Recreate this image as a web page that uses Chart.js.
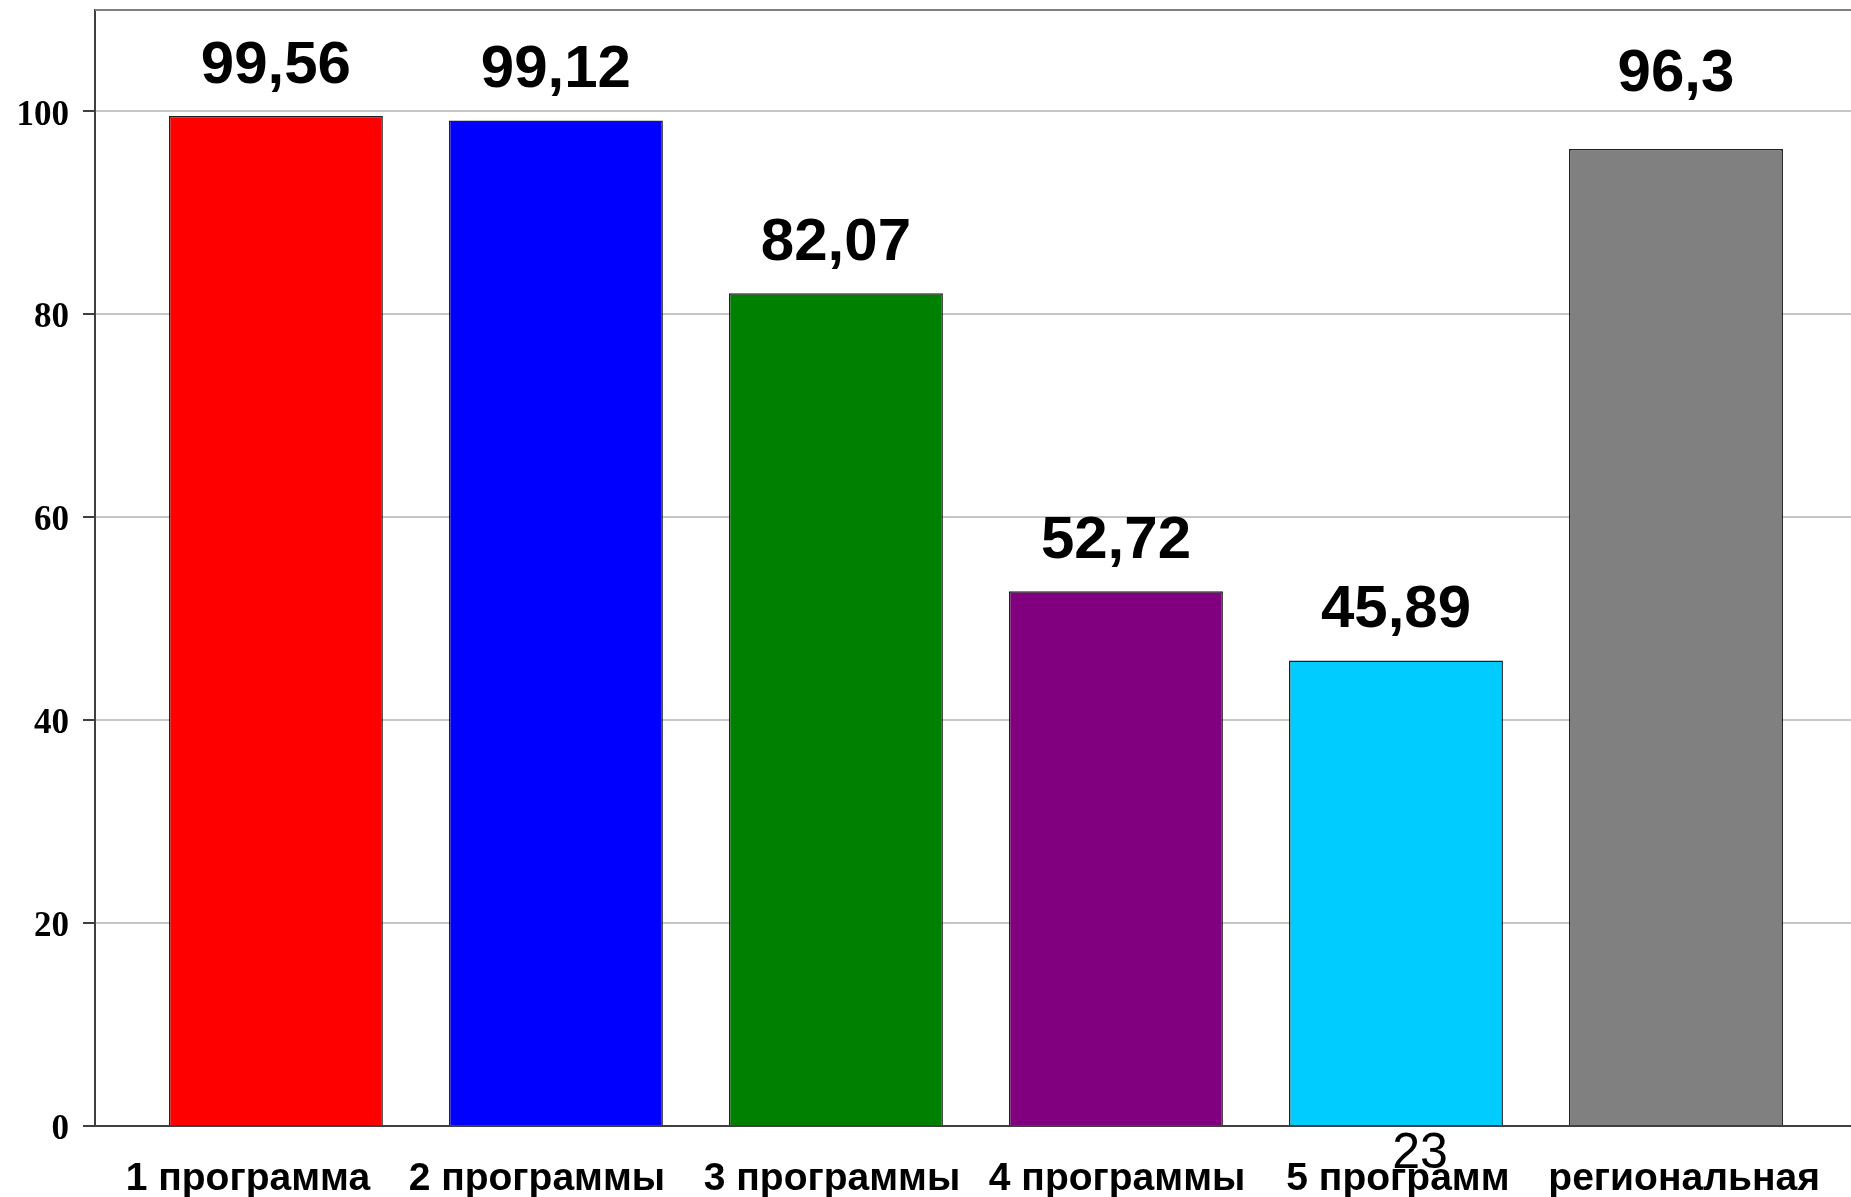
<!DOCTYPE html>
<html>
<head>
<meta charset="utf-8">
<script src="https://cdn.jsdelivr.net/npm/chart.js@4"></script>
<style>
  html, body { margin: 0; padding: 0; background: #fff; }
  #chart { display: block; }
</style>
</head>
<body>
<canvas id="chart" width="1851" height="1197"></canvas>
<script>
const categories = ["1 программа", "2 программы", "3 программы", "4 программы", "5 программ", "региональная"];
const values = [99.56, 99.12, 82.07, 52.72, 45.89, 96.3];
const barColors = ["#ff0000", "#0000ff", "#008000", "#800080", "#00ccff", "#808080"];
const yTicks = [0, 20, 40, 60, 80, 100];
const slideNumber = "23";

// the source placed the last value label a bit higher than the others
const labelGap = [33, 33, 33, 33, 33, 58];
// category labels are not quite centred under their bars in the source (in category units)
const labelShift = [-0.1, -0.068, -0.014, 0.004, 0.007, 0.029];

const sans = "'Liberation Sans', Arial, sans-serif";
const serif = "'Liberation Serif', 'Times New Roman', serif";

const formatValue = (v) => String(v).replace(".", ",");

const noPadding = (axis) => {
  axis.paddingTop = 0;
  axis.paddingBottom = 0;
  axis.paddingLeft = 0;
  axis.paddingRight = 0;
};

const frame = {
  id: "frame",
  beforeDatasetsDraw(chart) {
    const { ctx, chartArea } = chart;
    ctx.save();
    ctx.strokeStyle = "#808080";
    ctx.lineWidth = 2;
    ctx.beginPath();
    ctx.moveTo(chartArea.left, chartArea.top);
    ctx.lineTo(chartArea.right, chartArea.top);
    ctx.stroke();
    ctx.restore();
  },
};

const valueLabels = {
  id: "valueLabels",
  afterDatasetsDraw(chart) {
    const { ctx } = chart;
    const meta = chart.getDatasetMeta(0);
    ctx.save();
    ctx.fillStyle = "#000";
    ctx.font = `bold 60px ${sans}`;
    ctx.textAlign = "center";
    ctx.textBaseline = "alphabetic";
    meta.data.forEach((bar, i) => {
      ctx.fillText(formatValue(values[i]), bar.x, bar.y - labelGap[i]);
    });
    ctx.restore();
  },
  afterDraw(chart) {
    const { ctx } = chart;
    const x = chart.scales.x.getPixelForValue(4) + 24;
    ctx.save();
    ctx.fillStyle = "#000";
    ctx.font = `50px ${sans}`;
    ctx.textAlign = "center";
    ctx.textBaseline = "alphabetic";
    ctx.fillText(slideNumber, x, chart.chartArea.bottom + 42);
    ctx.restore();
  },
};

new Chart(document.querySelector("#chart"), {
  type: "bar",
  data: {
    datasets: [
      {
        data: categories.map((c, i) => ({ x: i, y: values[i] })),
        backgroundColor: barColors,
        borderColor: "#202020",
        borderWidth: 1.5,
        barPercentage: 0.764,
        categoryPercentage: 1,
      },
    ],
  },
  options: {
    responsive: false,
    animation: false,
    layout: { padding: { top: 10, right: 0, left: 0, bottom: 0 } },
    plugins: {
      legend: { display: false },
      tooltip: { enabled: false },
    },
    scales: {
      x: {
        type: "linear",
        offset: false,
        min: -0.646,
        max: 5.625,
        afterBuildTicks: (axis) => {
          axis.ticks = categories.map((c, i) => ({ value: i + labelShift[i] }));
        },
        afterFit: (axis) => {
          axis.height = 71;
          noPadding(axis);
        },
        grid: { display: false, drawTicks: false },
        border: { display: true, color: "#404040", width: 2 },
        ticks: {
          autoSkip: false,
          maxRotation: 0,
          padding: 30,
          color: "#000",
          font: { family: sans, size: 39, weight: "bold" },
          callback: (v, i) => categories[i],
        },
      },
      y: {
        min: 0,
        max: 110,
        afterBuildTicks: (axis) => {
          axis.ticks = yTicks.map((v) => ({ value: v }));
        },
        afterFit: (axis) => {
          axis.width = 95;
          noPadding(axis);
        },
        grid: {
          color: "#c6c6c6",
          lineWidth: 2,
          drawTicks: true,
          tickLength: 12,
          tickColor: "#404040",
          tickWidth: 2,
        },
        border: { display: true, color: "#404040", width: 2 },
        ticks: {
          padding: 14,
          labelOffset: 4,
          color: "#000",
          font: { family: serif, size: 35, weight: "bold" },
        },
      },
    },
  },
  plugins: [frame, valueLabels],
});
</script>
</body>
</html>
